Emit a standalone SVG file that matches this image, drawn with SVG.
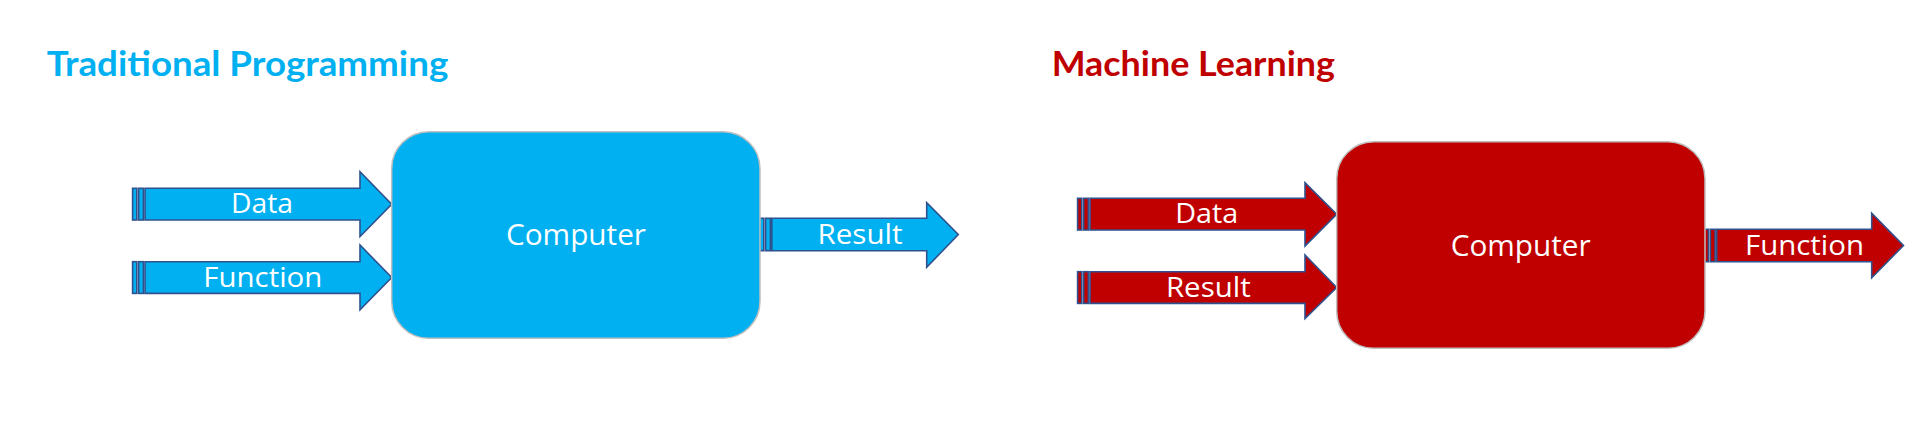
<svg xmlns="http://www.w3.org/2000/svg" width="1930" height="426" viewBox="0 0 1930 426">
<style>
.blue{fill:#00B0F0}
.red{fill:#C00000}
.arr{stroke:#2F528F;stroke-width:1.6;stroke-linejoin:miter}
.box{stroke:#BFBFBF;stroke-width:1.5}
.lbl{font-family:"Open Sans","Noto Sans",sans-serif;fill:#FFFFFF;text-anchor:middle}
.ttl{font-family:Lato,"Open Sans",sans-serif;font-weight:bold;font-size:34px}
</style>
<rect width="1930" height="426" fill="#FFFFFF"/>
<text class="ttl" x="46.7" y="76" fill="#00B0F0" textLength="401.6" lengthAdjust="spacingAndGlyphs">Traditional Programming</text>
<text class="ttl" x="1051.7" y="76" fill="#C00000" textLength="283.3" lengthAdjust="spacingAndGlyphs">Machine Learning</text>
<g id="connectors">
<g id="tp-data">
<rect class="blue arr" x="132.6" y="188.3" width="4.2" height="31.7"/>
<rect class="blue arr" x="138.6" y="188.3" width="4.8" height="31.7"/>
<path class="blue arr" d="M145,188.3 L360,188.3 L360,171.7 L391.7,204.2 L360,236.5 L360,220 L145,220 Z"/>
<text class="lbl" x="262" y="213.3" font-size="28" textLength="62" lengthAdjust="spacingAndGlyphs">Data</text>
</g>
<g id="tp-function">
<rect class="blue arr" x="132.6" y="261.7" width="4.2" height="31.7"/>
<rect class="blue arr" x="138.6" y="261.7" width="4.8" height="31.7"/>
<path class="blue arr" d="M145,261.7 L360,261.7 L360,245 L391.7,277.5 L360,309.8 L360,293.4 L145,293.4 Z"/>
<text class="lbl" x="262.8" y="286.7" font-size="28" textLength="119" lengthAdjust="spacingAndGlyphs">Function</text>
</g>
<g id="tp-result">
<rect class="blue arr" x="759.6" y="218.3" width="4.2" height="32.4"/>
<rect class="blue arr" x="765.6" y="218.3" width="4.8" height="32.4"/>
<path class="blue arr" d="M771.8,218.3 L926.7,218.3 L926.7,202.7 L958.3,234.5 L926.7,267.3 L926.7,250.7 L771.8,250.7 Z"/>
<text class="lbl" x="860" y="244.3" font-size="28" textLength="85" lengthAdjust="spacingAndGlyphs">Result</text>
</g>
<g id="ml-data">
<rect class="red arr" x="1077.6" y="198.3" width="4.2" height="31.7"/>
<rect class="red arr" x="1083.6" y="198.3" width="4.8" height="31.7"/>
<path class="red arr" d="M1090,198.3 L1305,198.3 L1305,182.7 L1336.7,214.2 L1305,246 L1305,230 L1090,230 Z"/>
<text class="lbl" x="1206.7" y="223.3" font-size="28" textLength="63" lengthAdjust="spacingAndGlyphs">Data</text>
</g>
<g id="ml-result">
<rect class="red arr" x="1077.6" y="271.7" width="4.2" height="31.7"/>
<rect class="red arr" x="1083.6" y="271.7" width="4.8" height="31.7"/>
<path class="red arr" d="M1090,271.7 L1305,271.7 L1305,255 L1336.7,287.5 L1305,318.5 L1305,303.4 L1090,303.4 Z"/>
<text class="lbl" x="1208.3" y="296.7" font-size="28" textLength="84.7" lengthAdjust="spacingAndGlyphs">Result</text>
</g>
<g id="ml-function">
<rect class="red arr" x="1704.3" y="229.3" width="4.2" height="32.4"/>
<rect class="red arr" x="1710.3" y="229.3" width="4.8" height="32.4"/>
<path class="red arr" d="M1716.7,229.3 L1871.7,229.3 L1871.7,213.3 L1903.5,245.5 L1871.7,277.7 L1871.7,261.7 L1716.7,261.7 Z"/>
<text class="lbl" x="1804.5" y="255" font-size="28" textLength="119" lengthAdjust="spacingAndGlyphs">Function</text>
</g>
</g>
<g id="tp-computer">
<rect class="blue box" x="391.7" y="131.7" width="368.3" height="206.6" rx="37" ry="37"/>
<text class="lbl" x="576" y="245" font-size="30" textLength="140" lengthAdjust="spacingAndGlyphs">Computer</text>
</g>
<g id="ml-computer">
<rect class="red box" x="1336.7" y="141.7" width="368.3" height="206.6" rx="37" ry="37"/>
<text class="lbl" x="1520.7" y="256" font-size="30" textLength="140" lengthAdjust="spacingAndGlyphs">Computer</text>
</g>
</svg>
